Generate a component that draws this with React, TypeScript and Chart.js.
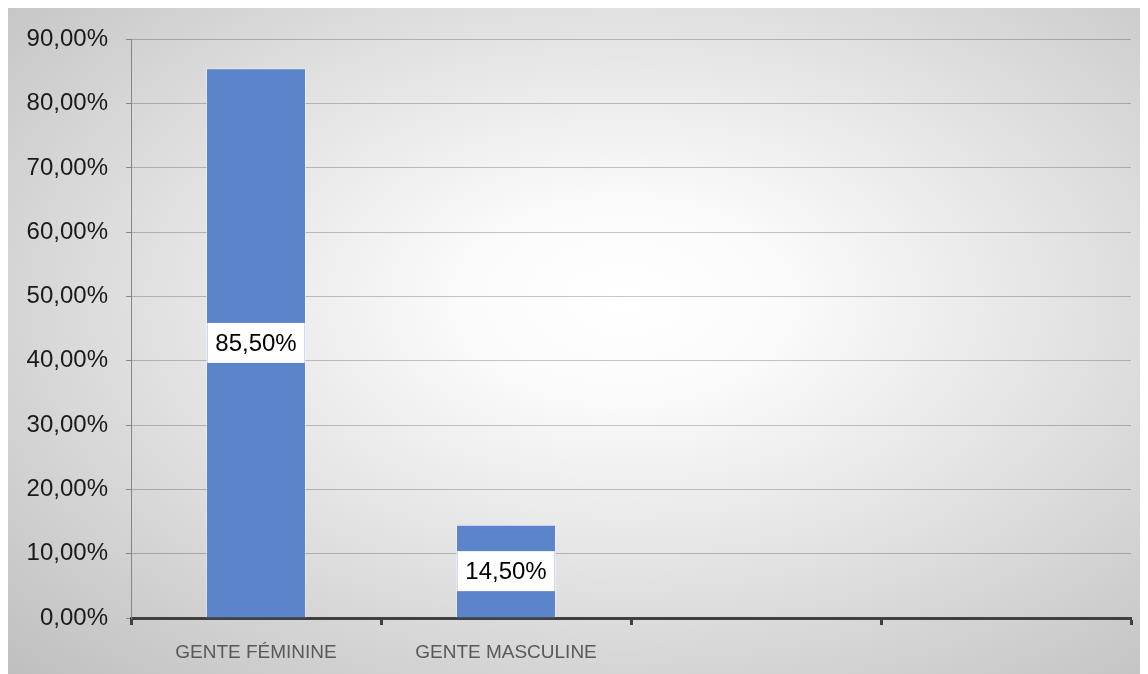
import React, { useEffect, useRef } from "react";
import { Chart, registerables } from "chart.js";

Chart.register(...registerables);

const categories = ["GENTE FÉMININE", "GENTE MASCULINE", "", ""];
const values: (number | null)[] = [85.5, 14.5, null, null];
const yMin = 0;
const yMax = 90;
const yStep = 10;

const fmt = (v: number) => v.toFixed(2).replace(".", ",") + "%";

const labelPlugin = {
  id: "boxLabels",
  afterDatasetsDraw(chart: any) {
    const ctx = chart.ctx;
    const meta = chart.getDatasetMeta(0);
    ctx.save();
    ctx.font = "24px 'Liberation Sans', Arial, sans-serif";
    ctx.textAlign = "center";
    ctx.textBaseline = "middle";
    meta.data.forEach((el: any, i: number) => {
      const v = values[i];
      if (v == null) return;
      const cy = (el.y + el.base) / 2;
      const text = fmt(v);
      const w = ctx.measureText(text).width + 16;
      const h = 40;
      ctx.fillStyle = "#ffffff";
      ctx.fillRect(el.x - w / 2, cy - h / 2, w, h);
      ctx.fillStyle = "#000000";
      ctx.fillText(text, el.x, cy + 1);
    });
    ctx.restore();
  },
};

export default function App() {
  const ref = useRef<HTMLCanvasElement>(null);
  useEffect(() => {
    if (!ref.current) return;
    const chart = new Chart(ref.current, {
      type: "bar",
      data: {
        labels: categories,
        datasets: [
          {
            data: values as any,
            backgroundColor: "#5b84ca",
            borderColor: "rgba(255,255,255,0.35)",
            borderWidth: 1,
            barPercentage: 0.4,
            categoryPercentage: 1,
          },
        ],
      },
      options: {
        animation: false,
        responsive: false,
        maintainAspectRatio: false,
        layout: { padding: { top: 31, right: 17, left: 0, bottom: 0 } },
        plugins: {
          legend: { display: false },
          tooltip: { enabled: false },
        },
        scales: {
          x: {
            grid: {
              offset: true,
              drawOnChartArea: false,
              drawTicks: true,
              tickLength: 7,
              tickWidth: 3,
              tickColor: "#404040",
            },
            border: { display: true, color: "#404040", width: 3 },
            ticks: {
              color: "#595959",
              font: { family: "'Liberation Sans', Arial, sans-serif", size: 19 },
              padding: 16,
              maxRotation: 0,
              autoSkip: false,
            },
            afterFit(scale: any) {
              scale.height = 56;
            },
          },
          y: {
            min: yMin,
            max: yMax,
            ticks: {
              stepSize: yStep,
              color: "#1a1a1a",
              font: { family: "'Liberation Sans', Arial, sans-serif", size: 24 },
              padding: 18,
              callback: (v: any) => fmt(Number(v)),
            },
            grid: {
              color: "rgba(0,0,0,0.22)",
              lineWidth: 1,
              tickLength: 5,
              tickColor: "#868686",
            },
            border: { display: true, color: "#868686", width: 1 },
            afterFit(scale: any) {
              scale.width = 123;
            },
          },
        },
      },
      plugins: [labelPlugin],
    });
    return () => chart.destroy();
  }, []);

  return (
    <div
      style={{
        position: "relative",
        width: 1140,
        height: 667,
        marginTop: -1,
        background:
          "radial-gradient(ellipse farthest-corner at 54% 44%, #ffffff 0%, #fbfbfb 18%, #e4e4e4 50%, #bfbfbf 100%)",
      }}
    >
      <canvas ref={ref} width={1140} height={667} style={{ display: "block" }} />
    </div>
  );
}
